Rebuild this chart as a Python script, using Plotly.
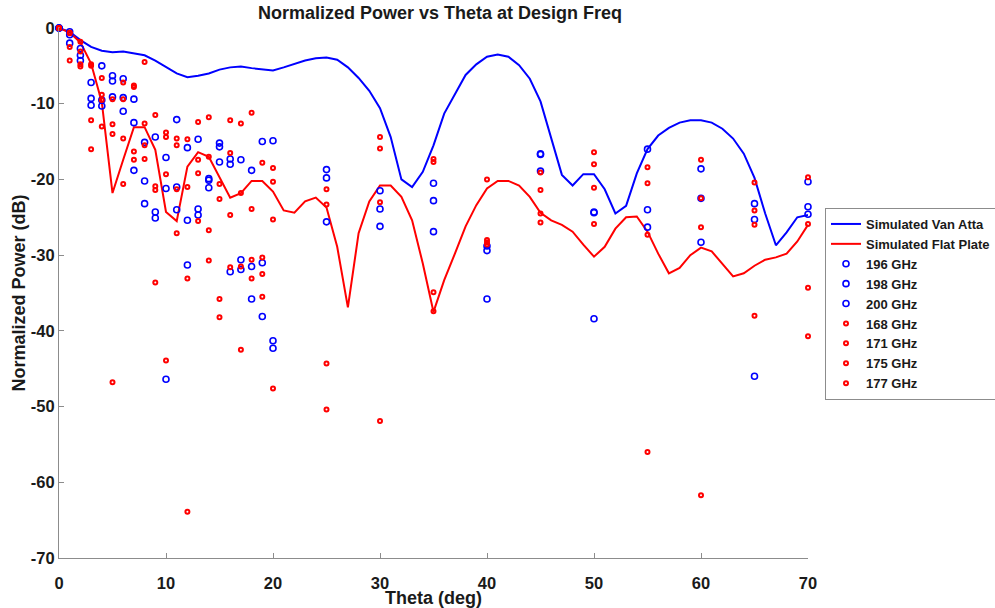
import plotly.graph_objects as go

theta_sim = list(range(0, 71))
van_atta = [0, -0.5, -1.6, -2.5, -3.0, -3.2, -3.1, -3.3, -3.6, -4.3,
            -5.2, -6.0, -6.5, -6.3, -6.0, -5.5, -5.2, -5.1, -5.3, -5.5,
            -5.6, -5.2, -4.7, -4.3, -4.0, -3.9, -4.2, -5.2, -6.6, -8.3,
            -10.6, -14.4, -20.0, -21.0, -19.0, -15.5, -11.3, -8.8, -6.2, -4.8,
            -3.8, -3.5, -3.8, -4.9, -6.7, -9.7, -14.4, -19.4, -20.8, -19.3,
            -19.3, -21.3, -24.5, -23.5, -19.2, -16.0, -14.2, -13.2, -12.5, -12.2,
            -12.2, -12.5, -13.3, -14.6, -16.6, -19.8, -24.5, -28.7, -27.0, -25.0,
            -24.7]
flat_plate = [0, -0.6, -1.9, -4.7, -9.8, -21.8, -17.4, -13.1, -13.1, -16.1,
              -24.3, -25.5, -18.3, -16.4, -17.0, -19.6, -22.4, -21.8, -20.2, -20.2,
              -21.6, -24.1, -24.4, -22.9, -22.4, -23.7, -28.9, -36.9, -27.1, -22.9,
              -20.8, -20.8, -22.3, -25.4, -31.1, -37.5, -33.3, -29.8, -26.2, -23.4,
              -21.2, -20.2, -20.2, -20.8, -22.3, -24.4, -25.4, -26.0, -26.9, -28.6,
              -30.2, -28.9, -26.5, -25.0, -24.9, -26.9, -29.8, -32.4, -31.7, -30.0,
              -29.0, -29.5, -31.1, -32.8, -32.4, -31.4, -30.6, -30.3, -29.8, -28.2,
              -26.0]

theta_meas = [0, 1, 2, 3, 4, 5, 6, 7, 8, 9, 10, 11, 12, 13, 14, 15, 16, 17, 18, 19, 20,
              25, 30, 35, 40, 45, 50, 55, 60, 65, 70]

f196 = [0, -0.5, -2.7, -7.2, -5.0, -6.3, -6.7, -9.4, -15.1, -14.4, -17.1, -12.1, -15.8, -14.7,
        -19.9, -15.2, -17.3, -17.4, -18.8, -15.0, -14.9, -18.7, -21.5, -20.5, -28.8, -16.7,
        -24.4, -16.0, -18.6, -23.2, -20.3]
f198 = [0, -0.9, -3.6, -9.3, -9.5, -7.0, -9.2, -12.5, -20.2, -24.3, -21.2, -21.0, -25.4, -23.9,
        -20.1, -15.7, -18.0, -30.6, -31.5, -31.0, -41.3, -19.8, -23.9, -22.8, -29.4, -16.6,
        -24.3, -24.0, -22.5, -25.3, -23.6]
f200 = [0, -2.0, -4.3, -10.2, -10.3, -9.1, -11.0, -18.8, -23.2, -25.1, -46.4, -24.0, -31.3, -24.7,
        -21.1, -17.7, -32.2, -31.9, -35.8, -38.1, -42.3, -25.6, -26.2, -26.9, -35.8, -18.9,
        -38.4, -26.3, -28.3, -46.0, -24.6]
f168 = [0, -0.6, -1.8, -4.8, -6.6, -9.4, -7.2, -7.6, -4.5, -11.5, -13.8, -14.6, -14.7, -12.4,
        -11.8, -20.6, -12.2, -12.6, -11.2, -17.8, -18.5, -21.3, -14.4, -17.3, -20.0, -19.1,
        -16.4, -18.4, -17.4, -20.4, -19.7]
f171 = [0, -0.7, -3.1, -5.0, -8.8, -12.7, -9.4, -7.8, -12.6, -20.9, -14.4, -15.5, -21.0, -17.4,
        -17.0, -22.6, -16.5, -21.8, -23.9, -30.3, -20.3, -23.3, -15.9, -17.7, -28.0, -21.4,
        -18.0, -20.5, -22.5, -24.1, -25.9]
f175 = [0, -2.5, -4.8, -12.2, -9.5, -14.0, -14.6, -16.3, -15.5, -21.4, -19.3, -21.3, -33.1, -19.2,
        -26.7, -35.8, -24.7, -31.5, -30.6, -32.5, -25.3, -44.3, -23.0, -34.9, -28.3, -24.5,
        -21.1, -27.3, -26.3, -26.0, -34.3]
f177 = [0, -4.3, -5.1, -16.0, -13.0, -46.8, -20.6, -17.4, -17.3, -33.6, -43.9, -27.1, -63.9, -25.5,
        -30.7, -38.2, -31.6, -42.5, -33.1, -35.5, -47.6, -50.4, -51.9, -37.4, -28.6, -25.7,
        -25.9, -56.0, -61.7, -38.0, -40.7]

x_ticks = [0, 10, 20, 30, 40, 50, 60, 70]
y_ticks = [0, -10, -20, -30, -40, -50, -60, -70]

BLUE = "#0000FF"
RED = "#FF0000"
FONT = "Liberation Sans, Arial, sans-serif"
TXT = "#1a1a1a"

fig = go.Figure()
fig.add_trace(go.Scatter(x=theta_sim, y=van_atta, mode="lines", name="Simulated Van Atta",
                         line=dict(color=BLUE, width=2)))
fig.add_trace(go.Scatter(x=theta_sim, y=flat_plate, mode="lines", name="Simulated Flat Plate",
                         line=dict(color=RED, width=2)))
for name, vals in [("196 GHz", f196), ("198 GHz", f198), ("200 GHz", f200)]:
    fig.add_trace(go.Scatter(x=theta_meas, y=vals, mode="markers", name=name, cliponaxis=False,
                             marker=dict(symbol="circle-open", size=6, color=BLUE,
                                         line=dict(width=1.6, color=BLUE))))
for name, vals in [("168 GHz", f168), ("171 GHz", f171), ("175 GHz", f175), ("177 GHz", f177)]:
    fig.add_trace(go.Scatter(x=theta_meas, y=vals, mode="markers", name=name, cliponaxis=False,
                             marker=dict(symbol="circle-open", size=4, color=RED,
                                         line=dict(width=2, color=RED))))

axis_common = dict(showgrid=False, zeroline=False, showline=True, linecolor="#8c8c8c",
                   linewidth=1.2, ticks="inside", ticklen=5, tickcolor="#8c8c8c",
                   tickfont=dict(family=FONT, size=16.5, color=TXT), mirror=False,
                   automargin=False)

fig.update_layout(
    width=995, height=608,
    margin=dict(l=59, r=187, t=28, b=50, autoexpand=False),
    paper_bgcolor="white", plot_bgcolor="white",
    font=dict(family=FONT, color=TXT),
    title=dict(text="<b>Normalized Power vs Theta at Design Freq</b>", x=440 / 995,
               xanchor="center", y=1 - 12.5 / 608, yanchor="middle",
               font=dict(family=FONT, size=18, color=TXT)),
    xaxis=dict(range=[0, 70], tickvals=x_ticks,
               ticktext=["<b>%d</b>" % v for v in x_ticks],
               ticklabelstandoff=10,
               title=dict(text="<b>Theta (deg)</b>", font=dict(family=FONT, size=18), standoff=2),
               **axis_common),
    yaxis=dict(range=[-70, 0], tickvals=y_ticks,
               ticktext=["<b>%d</b>" % v for v in y_ticks],
               title=dict(text="<b>Normalized Power (dB)</b>", font=dict(family=FONT, size=18), standoff=0),
               **axis_common),
    legend=dict(xref="container", yref="container", x=825 / 995, y=1 - 208 / 608,
                xanchor="left", yanchor="top",
                bgcolor="white", bordercolor="#8c8c8c", borderwidth=1,
                font=dict(family=FONT, size=13, color=TXT), itemwidth=30,
                tracegroupgap=0),
    showlegend=True,
)
for tr in fig.data:
    tr.name = "<b>%s</b>" % tr.name

fig.write_html("out.html")
